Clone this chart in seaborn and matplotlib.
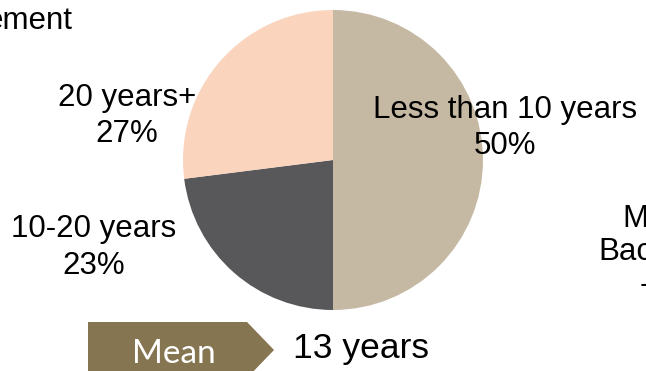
import matplotlib
matplotlib.use("Agg")
import matplotlib.pyplot as plt
import seaborn as sns
from matplotlib.patches import Polygon

# ---- data ----
categories = ["Less than 10 years", "10-20 years", "20 years+"]
shares = [50, 23, 27]
slice_colors = ["#C6B9A3", "#58585A", "#FBD4BE"]
mean_label = "Mean"
mean_value = "13 years"
title_fragment = "ement"
right_fragments = ["M", "Bac", "-"]

sns.set_theme(style="white")
plt.rcParams['font.family'] = ['Liberation Sans', 'DejaVu Sans']

W, H = 646, 371
fig = plt.figure(figsize=(W / 100, H / 100), dpi=100)
fig.patch.set_facecolor("white")

def fx(px):
    return px / W

def fy(py):
    return 1 - py / H

# pie axes: centre (333,160), radius 150 px
cx, cy, r = 333, 160, 150
ax = fig.add_axes([fx(cx - r), fy(cy + r), 2 * r / W, 2 * r / H])
ax.pie(shares, colors=slice_colors, startangle=90, counterclock=False,
       wedgeprops=dict(linewidth=0))
ax.set_xlim(-1, 1)
ax.set_ylim(-1, 1)
ax.set_aspect("equal")
ax.axis("off")

fs = 22.5
# label positions (center x, baseline of name line)
label_pos = {"Less than 10 years": (505, 118),
             "10-20 years": (94, 237),
             "20 years+": (127, 106)}
for cat, val in zip(categories, shares):
    x, y = label_pos[cat]
    fig.text(fx(x), fy(y), cat, ha="center", va="baseline", fontsize=fs, color="black")
    fig.text(fx(x), fy(y + 36.5), f"{val}%", ha="center", va="baseline", fontsize=fs, color="black")

# title fragment at top left
fig.text(fx(73), fy(29), title_fragment, ha="right", va="baseline", fontsize=fs, color="black")

# right side partial texts
fig.text(fx(622), fy(227), right_fragments[0], ha="left", va="baseline", fontsize=fs, color="black")
fig.text(fx(598), fy(260), right_fragments[1], ha="left", va="baseline", fontsize=fs, color="black")
fig.text(fx(640), fy(293), right_fragments[2], ha="left", va="baseline", fontsize=fs, color="black")

# chevron ("home plate") with Mean label
pts = [(88, 322), (247, 322), (274, 350), (247, 378), (88, 378)]
poly = Polygon([(fx(x), fy(y)) for x, y in pts], closed=True,
               transform=fig.transFigure, facecolor="#857550", edgecolor="none")
fig.patches.append(poly)
fig.text(fx(174), fy(363), mean_label, ha="center", va="baseline", fontsize=24,
         color="white", family=["Lato", "DejaVu Sans"])
fig.text(fx(293), fy(358), mean_value, ha="left", va="baseline", fontsize=25.5, color="black")

fig.savefig("out.png", dpi=100)
